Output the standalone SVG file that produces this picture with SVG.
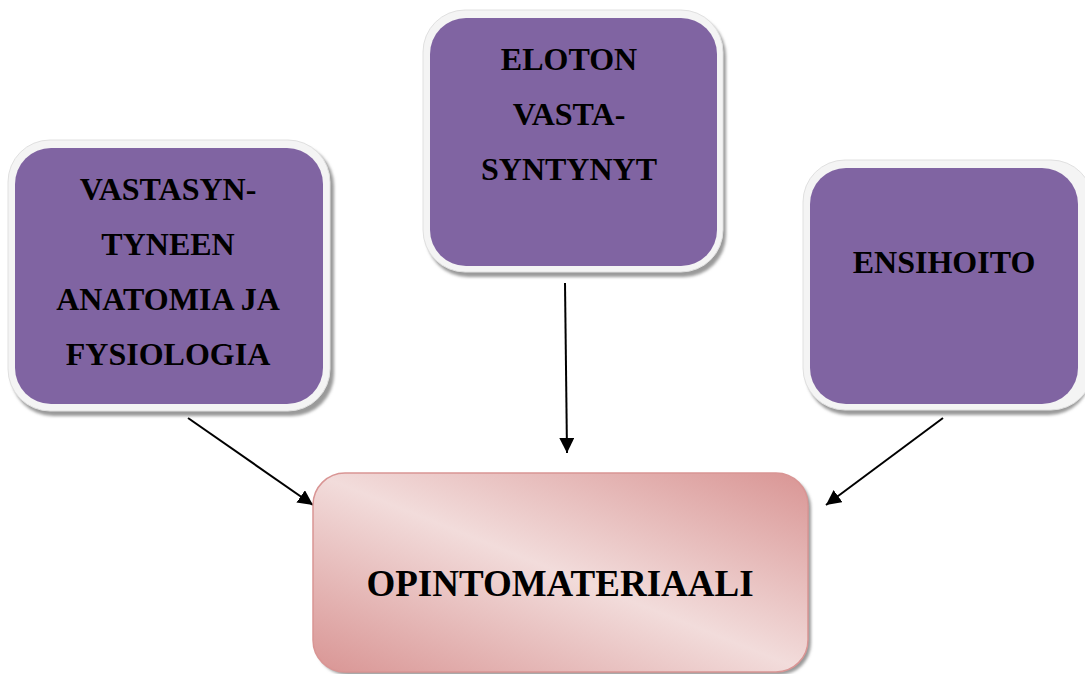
<svg xmlns="http://www.w3.org/2000/svg" width="1085" height="674" viewBox="0 0 1085 674">
<style>
.frame{fill:#f4f4f4;stroke:#e0e0e0;stroke-width:1}
.shadow{fill:#9a9a9a;filter:url(#blur)}
.inner{fill:#8064a2}
.t{font-family:"Liberation Serif","Times New Roman",serif;font-weight:bold;font-size:32px;fill:#000;text-anchor:middle}
.conn{stroke:#000;stroke-width:2;fill:none;marker-end:url(#ah)}
</style>
<defs>
<filter id="blur" x="-10%" y="-10%" width="120%" height="120%"><feGaussianBlur stdDeviation="1.5"/></filter>
<marker id="ah" viewBox="0 0 10 10" refX="10" refY="5" markerWidth="15" markerHeight="15" markerUnits="userSpaceOnUse" orient="auto"><path d="M0,0 L10,5 L0,10 z" fill="#000"/></marker>
<linearGradient id="pink" x1="0" y1="1" x2="1" y2="0">
<stop offset="0" stop-color="#d99594"/>
<stop offset="0.5" stop-color="#f2dcdb"/>
<stop offset="1" stop-color="#d99594"/>
</linearGradient>
</defs>
<g id="connectors">
<line class="conn" x1="188" y1="418" x2="313" y2="505"/>
<line class="conn" x1="565" y1="283" x2="567" y2="453"/>
<line class="conn" x1="943" y1="418" x2="826" y2="505"/>
</g>
<g id="n_anatomia">
<rect class="shadow" x="11" y="144" width="323" height="272" rx="42"/>
<rect class="frame" x="8" y="140" width="322" height="271" rx="42"/>
<rect class="inner" x="15" y="148" width="308" height="256" rx="36"/>
<text class="t" x="168" y="200">VASTASYN-</text>
<text class="t" x="168" y="255">TYNEEN</text>
<text class="t" x="168" y="310">ANATOMIA JA</text>
<text class="t" x="168" y="365">FYSIOLOGIA</text>
</g>
<g id="n_eloton">
<rect class="shadow" x="426" y="14" width="300" height="263" rx="42"/>
<rect class="frame" x="423" y="10" width="300" height="262" rx="42"/>
<rect class="inner" x="430" y="18" width="287" height="248" rx="36"/>
<text class="t" x="569" y="70">ELOTON</text>
<text class="t" x="569" y="125">VASTA-</text>
<text class="t" x="569" y="180">SYNTYNYT</text>
</g>
<g id="n_ensihoito">
<rect class="shadow" x="806" y="164" width="285" height="251" rx="42"/>
<rect class="frame" x="803" y="160" width="290" height="250" rx="42"/>
<rect class="inner" x="810" y="168" width="268" height="236" rx="36"/>
<text class="t" x="944" y="273">ENSIHOITO</text>
</g>
<g id="n_opintomateriaali">
<rect x="316" y="476" width="495" height="199" rx="32" fill="#9a9a9a" filter="url(#blur)"/>
<rect x="313" y="473" width="495" height="199" rx="32" fill="url(#pink)" stroke="#d99594" stroke-width="1.5"/>
<text class="t" x="560" y="596" style="font-size:37px">OPINTOMATERIAALI</text>
</g>
</svg>
